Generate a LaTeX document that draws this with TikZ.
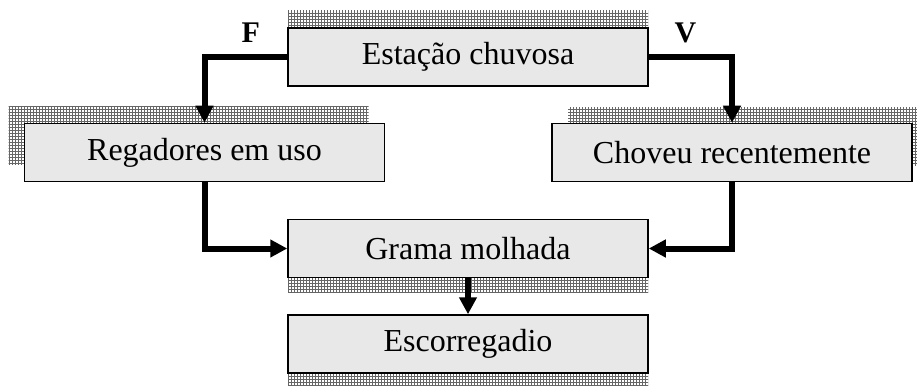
\documentclass[tikz,border=0pt]{standalone}
\usepackage{fontspec}
\setmainfont{Liberation Serif}
\usetikzlibrary{arrows.meta,shadows,patterns}
\tikzset{
  box/.style={draw=black, line width=1.5pt, fill=black!9, minimum width=360pt,
    minimum height=58pt, inner sep=0pt, font=\fontsize{32}{38}\selectfont},
  shadow/.style 2 args={general shadow={shadow xshift=#1, shadow yshift=#2,
    pattern=grid, pattern color=black!60}},
  flow/.style={line width=6pt, -{Triangle[length=17pt,width=17pt]}},
  lbl/.style={font=\fontsize{30}{36}\selectfont\bfseries, inner sep=3pt, yshift=8pt}
}
\begin{document}
\begin{tikzpicture}[x=1pt,y=1pt]
  \useasboundingbox (0,0) rectangle (917,-385);
  \node (est) [box, shadow={0pt}{17pt}] at (468,-57) {Estação chuvosa};
  \node (gra) [box, shadow={0pt}{-15pt}, below of=est, node distance=191.5pt] {Grama molhada};
  \node (esc) [box, shadow={0pt}{-15pt}, below of=gra, node distance=95.5pt] {Escorregadio};
  \node (reg) [box, shadow={-16pt}{17pt}, below of=est, node distance=95.5pt, xshift=-263.5pt] {Regadores em uso};
  \node (cho) [box, shadow={16pt}{16pt}, below of=est, node distance=95.5pt, xshift=264pt] {Choveu recentemente};
  \draw[flow] (est.west) -| node[lbl, above, pos=.22] {F} (reg.north);
  \draw[flow] (est.east) -| node[lbl, above, pos=.22] {V} (cho.north);
  \draw[flow] (reg.south) |- (gra.west);
  \draw[flow] (cho.south) |- (gra.east);
  \draw[flow] (gra.south) -- (esc.north);
\end{tikzpicture}
\end{document}
